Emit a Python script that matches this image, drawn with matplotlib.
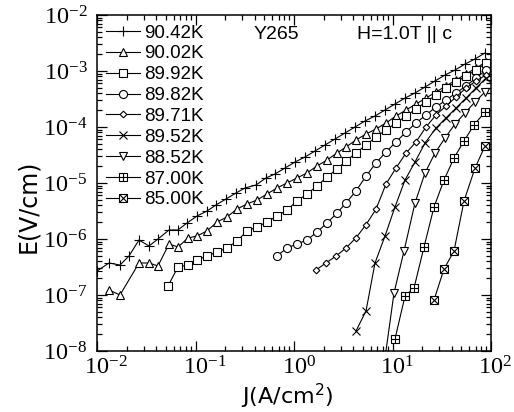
import matplotlib
matplotlib.use("Agg")
import matplotlib.pyplot as plt
from matplotlib.legend_handler import HandlerTuple

plt.rcParams['mathtext.fontset'] = 'custom'
plt.rcParams['mathtext.rm'] = 'Liberation Serif'
plt.rcParams['mathtext.sf'] = 'DejaVu Sans'
plt.rcParams['font.family'] = ['Liberation Sans', 'DejaVu Sans']

labels = ["90.42K", "90.02K", "89.92K", "89.82K", "89.71K",
          "89.52K", "88.52K", "87.00K", "85.00K"]

J_9042 = [0.0100, 0.01324, 0.01712, 0.02113, 0.02669, 0.03372, 0.04160, 0.05383, 0.06643,
          0.08198, 0.1035, 0.1308, 0.1614, 0.2040, 0.2577, 0.3180, 0.4113, 0.5195, 0.6413,
          0.8101, 1.024, 1.293, 1.634, 2.064, 2.608, 3.295, 4.162, 5.258, 6.643, 8.393,
          10.60, 13.40, 16.92, 21.38, 27.01, 34.12, 43.11, 54.46, 68.81, 86.94]
E_9042 = [2.68e-7, 3.73e-7, 3.43e-7, 4.97e-7, 9.59e-7, 7.50e-7, 1.00e-6, 1.45e-6, 1.45e-6,
          1.93e-6, 2.57e-6, 3.16e-6, 4.05e-6, 5.18e-6, 6.63e-6, 8.14e-6, 9.21e-6, 1.23e-5, 1.45e-5,
          1.85e-5, 2.37e-5, 2.91e-5, 3.73e-5, 4.77e-5, 6.10e-5, 7.81e-5, 1.00e-4, 1.28e-4, 1.57e-4, 2.01e-4,
          2.57e-4, 3.29e-4, 4.05e-4, 5.18e-4, 6.63e-4, 8.48e-4, 1.04e-3, 1.33e-3, 1.64e-3, 2.10e-3]

J_9002 = [0.01324, 0.01712, 0.02669, 0.03372, 0.04160, 0.05383, 0.06643, 0.0839, 0.1035,
          0.1308, 0.1653, 0.2088, 0.2638, 0.3333, 0.4211, 0.5319, 0.6722, 0.8488, 1.073,
          1.355, 1.712, 2.163, 2.733, 3.372, 4.261, 5.383, 6.800, 8.592, 10.85, 13.71,
          17.32, 21.88, 27.65, 34.92, 44.13, 55.75, 70.43, 88.97]
E_9002 = [1.23e-7, 1.00e-7, 3.73e-7, 3.73e-7, 3.30e-7, 8.14e-7, 7.20e-7, 1.04e-6, 1.13e-6,
          1.39e-6, 2.01e-6, 2.47e-6, 3.43e-6, 4.22e-6, 4.97e-6, 6.36e-6, 8.14e-6, 1.00e-5, 1.23e-5,
          1.51e-5, 2.01e-5, 2.57e-5, 3.43e-5, 4.39e-5, 5.86e-5, 7.50e-5, 9.21e-5, 1.18e-4, 1.57e-4, 2.01e-4,
          2.57e-4, 3.29e-4, 4.22e-4, 5.40e-4, 6.91e-4, 8.84e-4, 1.13e-3, 1.45e-3]

J_8992 = [0.0526, 0.06643, 0.0839, 0.1035, 0.1308, 0.1653, 0.2088, 0.2638, 0.3333, 0.4211,
          0.5319, 0.6722, 0.8488, 1.073, 1.355, 1.712, 2.163, 2.733, 3.372, 4.261, 5.383,
          6.800, 8.592, 10.85, 13.71, 17.32, 21.88, 27.65, 34.92, 44.13, 55.75, 70.43, 88.97]
E_8992 = [1.45e-7, 3.16e-7, 3.43e-7, 4.22e-7, 4.97e-7, 5.86e-7, 6.91e-7, 9.21e-7, 1.39e-6, 1.64e-6,
          2.01e-6, 2.57e-6, 3.29e-6, 4.77e-6, 6.36e-6, 8.84e-6, 1.28e-5, 1.78e-5, 2.47e-5, 3.43e-5, 4.77e-5,
          6.63e-5, 8.84e-5, 1.18e-4, 1.57e-4, 2.10e-4, 2.80e-4, 3.73e-4, 4.97e-4, 6.36e-4, 8.14e-4, 1.04e-3, 1.39e-3]

J_8982 = [0.6722, 0.8488, 1.073, 1.355, 1.712, 2.163, 2.733, 3.372, 4.261, 5.383, 6.800,
          8.592, 10.85, 13.71, 17.32, 21.88, 27.65, 34.92, 44.13, 55.75, 70.43, 88.97]
E_8982 = [4.97e-7, 6.91e-7, 8.14e-7, 9.59e-7, 1.33e-6, 1.93e-6, 2.91e-6, 4.39e-6, 7.20e-6, 1.33e-5, 2.28e-5,
          3.58e-5, 5.40e-5, 8.14e-5, 1.18e-4, 1.64e-4, 2.28e-4, 3.03e-4, 4.05e-4, 5.40e-4, 7.50e-4, 1.04e-3]

J_8971 = [1.673, 2.113, 2.670, 3.372, 4.261, 5.383, 6.800, 8.592, 10.85, 13.71, 17.32,
          21.88, 27.65, 34.92, 44.13, 55.75, 70.43, 88.97]
E_8971 = [2.80e-7, 3.73e-7, 4.97e-7, 6.91e-7, 1.05e-6, 1.80e-6, 3.40e-6, 9.59e-6, 1.85e-5, 3.43e-5, 5.40e-5,
          1.00e-4, 1.64e-4, 2.37e-4, 3.43e-4, 4.97e-4, 6.63e-4, 8.48e-4]

J_8952 = [4.261, 5.383, 6.643, 8.393, 10.60, 13.40, 16.92, 21.38, 27.65, 34.92, 44.13, 55.75, 70.43, 88.97]
E_8952 = [2.28e-8, 5.18e-8, 3.73e-7, 1.13e-6, 3.73e-6, 1.13e-5, 2.37e-5, 5.18e-5, 9.59e-5, 1.45e-4,
          2.18e-4, 3.29e-4, 4.97e-4, 7.50e-4]

J_8852 = [8.20, 10.36, 13.09, 16.92, 21.38, 27.01, 34.12, 43.11, 54.46, 68.81, 86.94]
E_8852 = [5.62e-9, 1.09e-7, 6.10e-7, 4.39e-6, 1.51e-5, 3.43e-5, 6.36e-5, 1.13e-4, 1.78e-4, 2.80e-4, 4.22e-4]

J_8700 = [10.60, 13.40, 16.53, 20.89, 26.39, 33.33, 42.11, 53.20, 67.22, 86.94]
E_8700 = [1.64e-8, 9.59e-8, 1.33e-7, 7.20e-7, 3.73e-6, 1.13e-5, 2.80e-5, 5.62e-5, 1.09e-4, 1.85e-4]

J_8500 = [26.39, 33.33, 42.11, 53.20, 68.81, 86.94]
E_8500 = [8.14e-8, 2.91e-7, 6.10e-7, 4.77e-6, 1.85e-5, 4.58e-5]

x_exps = [-2, -1, 0, 1, 2]
y_exps = [-8, -7, -6, -5, -4, -3, -2]

series = [
    (J_9042, E_9042, '+', 6.5, None),
    (J_9002, E_9002, '^', 5.5, None),
    (J_8992, E_8992, 's', 5.5, None),
    (J_8982, E_8982, 'o', 5.8, None),
    (J_8971, E_8971, 'D', 3.4, None),
    (J_8952, E_8952, 'x', 6.0, None),
    (J_8852, E_8852, 'v', 5.5, None),
    (J_8700, E_8700, 's', 5.8, '+'),
    (J_8500, E_8500, 's', 5.8, 'x'),
]

fig = plt.figure(figsize=(5.14, 4.12), dpi=100)
ax = fig.add_axes([97/514, 1-351/412, 394/514, 336/412])

handles = []
for (J, E, m, ms, extra), lab in zip(series, labels):
    ln, = ax.plot(J, E, color='black', lw=0.8, marker=m, ms=ms,
                  mfc='white' if m not in '+x' else 'black',
                  mec='black', mew=0.8)
    if extra is not None:
        ex, = ax.plot(J, E, ls='none', marker=extra, ms=ms, mec='black', mew=0.8)
        handles.append((ln, ex))
    else:
        handles.append(ln)

ax.set_xscale('log')
ax.set_yscale('log')
ax.set_xlim(1e-2, 1e2)
ax.set_ylim(1e-8, 1e-2)

ax.set_xticks([10.0 ** e for e in x_exps])
ax.set_xticklabels([])
for e in x_exps:
    ax.annotate(r'$\mathrm{10^{%d}}$' % e, xy=(10.0 ** e, 0), xycoords=('data', 'axes fraction'),
                xytext=(-9.0, -4), textcoords='offset points', ha='left', va='top',
                fontsize=17.5, annotation_clip=False)
ax.set_yticks([10.0 ** e for e in y_exps])
ax.set_yticklabels([r'$\mathrm{10^{%d}}$' % e for e in y_exps], fontsize=17.5)

ax.tick_params(which='both', direction='in', top=True, right=True, width=0.9)
ax.tick_params(which='major', length=7)
ax.tick_params(which='minor', length=3.5)
ax.tick_params(axis='y', which='major', pad=7)
for s in ax.spines.values():
    s.set_linewidth(1.1)

ax.set_xlabel(r'J(A/cm$^{\mathsf{2}}$)', fontsize=16, family='DejaVu Sans', va='center')
ax.xaxis.set_label_coords(0.482, -0.135)
ax.set_ylabel('E(V/cm)', fontsize=17, family='DejaVu Sans', va='center')
ax.yaxis.set_label_coords(-0.175, 0.432)

ax.text(0.455, 0.943, 'Y265', transform=ax.transAxes, fontsize=14, ha='center', va='center')
ax.text(0.78, 0.943, 'H=1.0T || c', transform=ax.transAxes, fontsize=14, ha='center', va='center')

leg = ax.legend(handles, labels, loc='upper left', frameon=False, fontsize=13.5,
                handlelength=1.8, handletextpad=0.2, labelspacing=0.2,
                borderaxespad=0.2, borderpad=0.3,
                handler_map={tuple: HandlerTuple(ndivide=1)})

fig.savefig('out.png', dpi=100)
